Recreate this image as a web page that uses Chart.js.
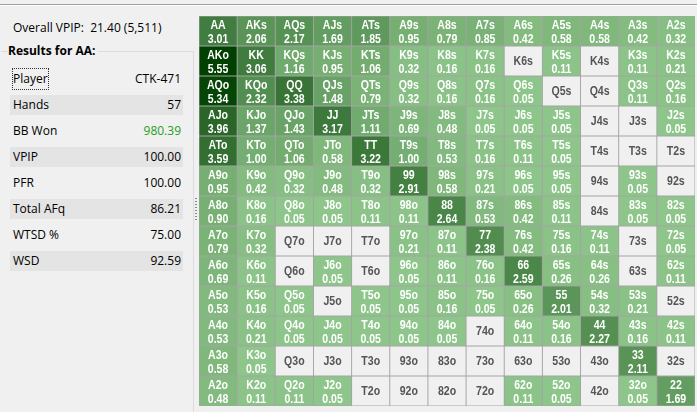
<!DOCTYPE html>
<html>
<head>
<meta charset="utf-8">
<script src="https://cdn.jsdelivr.net/npm/chart.js@4.4.0/dist/chart.umd.min.js"></script>
<style>
  body { margin: 0; width: 697px; height: 412px; background: #f0f0f0; overflow: hidden;
         font-family: "Segoe UI", "Open Sans", "Noto Sans", sans-serif; font-size: 12px; color: #000; position: relative; }
  .topline { position: absolute; left: 0; top: 4px; width: 697px; height: 1px; background: #a0a0a0; border-bottom: 1px solid #fff; }
  .vpip { position: absolute; left: 13px; top: 19px; }
  .box { position: absolute; left: 1px; top: 51px; width: 192px; height: 370px; border: 1px solid #dcdcdc; border-left: none; }
  .boxtitle { position: absolute; left: 8px; top: 42px; font-weight: bold; background: #f0f0f0; padding-right: 3px; }
  .row { position: absolute; left: 10px; width: 173px; height: 20px; line-height: 20px; }
  .row.alt { background: #e4e4e4; }
  .row .k { position: absolute; left: 3px; }
  .row .v { position: absolute; right: 2px; }
  .focus { outline: 1px dotted #333; outline-offset: 0px; }
  .split { position: absolute; left: 195px; top: 198px; width: 2px; height: 24px;
           background: repeating-linear-gradient(#888 0 1px, transparent 1px 3px); }
  #wrap { position: absolute; left: 199px; top: 16px; width: 496px; height: 390px; background: #a4a4a4; }
</style>
</head>
<body>
<div class="topline"></div>
<div class="vpip">Overall VPIP:&nbsp; 21.40 (5,511)</div>
<div class="box"></div>
<div class="boxtitle">Results for AA:</div>
<div id="stats"></div>
<div class="split"></div>
<div id="wrap"><canvas id="grid"></canvas></div>

<script>
// ranks in matrix order
const ranks = ['A', 'K', 'Q', 'J', 'T', '9', '8', '7', '6', '5', '4', '3', '2'];

// one row per first rank; null = hand never played
const rowA = [3.01, 2.06, 2.17, 1.69, 1.85, 0.95, 0.79, 0.85, 0.42, 0.58, 0.58, 0.42, 0.32];
const rowK = [5.55, 3.06, 1.16, 0.95, 1.06, 0.32, 0.16, 0.16, null, 0.11, null, 0.11, 0.21];
const rowQ = [5.34, 2.32, 3.38, 1.48, 0.79, 0.32, 0.16, 0.16, 0.05, null, null, 0.11, 0.16];
const rowJ = [3.96, 1.37, 1.43, 3.17, 1.11, 0.69, 0.48, 0.05, 0.05, 0.05, null, null, 0.05];
const rowT = [3.59, 1.00, 1.06, 0.58, 3.22, 1.00, 0.53, 0.16, 0.11, 0.05, null, null, null];
const row9 = [0.95, 0.42, 0.32, 0.48, 0.32, 2.91, 0.58, 0.21, 0.05, 0.05, null, 0.05, null];
const row8 = [0.90, 0.16, 0.05, 0.05, 0.11, 0.11, 2.64, 0.53, 0.42, 0.11, null, 0.05, 0.05];
const row7 = [0.79, 0.32, null, null, null, 0.21, 0.11, 2.38, 0.42, 0.16, 0.11, null, 0.05];
const row6 = [0.69, 0.11, null, 0.05, null, 0.05, 0.11, 0.16, 2.59, 0.26, 0.26, null, 0.11];
const row5 = [0.53, 0.16, 0.05, null, 0.05, 0.05, 0.16, 0.05, 0.26, 2.01, 0.32, 0.21, null];
const row4 = [0.53, 0.21, 0.05, 0.05, 0.05, 0.05, 0.05, null, 0.11, 0.16, 2.27, 0.16, 0.11];
const row3 = [0.58, 0.05, null, null, null, null, null, null, null, null, null, 2.11, null];
const row2 = [0.48, 0.11, 0.11, 0.05, null, null, null, null, 0.11, 0.05, null, 0.05, 1.69];
const rows = [rowA, rowK, rowQ, rowJ, rowT, row9, row8, row7, row6, row5, row4, row3, row2];

// left panel
const statNames = ['Player', 'Hands', 'BB Won', 'VPIP', 'PFR', 'Total AFq', 'WTSD %', 'WSD'];
const statValues = ['CTK-471', '57', '980.39', '100.00', '100.00', '86.21', '75.00', '92.59'];

let html = '';
statNames.forEach(function(name, i) {
    const top = 69 + i * 26;
    const cls = i % 2 ? 'row alt' : 'row';
    const k = i === 0 ? '<span class="k focus">' + name + '</span>' : '<span class="k">' + name + '</span>';
    const col = name === 'BB Won' ? ' style="color:#22a022"' : '';
    html += '<div class="' + cls + '" style="top:' + top + 'px">' + k + '<span class="v"' + col + '>' + statValues[i] + '</span></div>';
});
document.getElementById('stats').innerHTML = html;

function handName(r, c) {
    if (r === c) return ranks[r] + ranks[c];
    if (c > r) return ranks[r] + ranks[c] + 's';
    return ranks[c] + ranks[r] + 'o';
}

function cellColor(v) {
    if (v === null) return '#f0f0f0';
    const t = Math.min(v / 5.55, 1);
    const r = Math.round(143 - 143 * t);
    const g = Math.round(198 - 134 * t);
    const b = Math.round(139 - 139 * t);
    return 'rgb(' + r + ',' + g + ',' + b + ')';
}

const gap = 0.018;
const datasets = rows.map(function(vals, r) {
    return {
        label: ranks[r],
        data: vals.map(function() { return [r + gap, r + 1 - gap]; }),
        backgroundColor: vals.map(cellColor),
        borderWidth: 0,
        grouped: false,
        barPercentage: 1,
        categoryPercentage: 0.975
    };
});

// text is drawn a bit narrow, like the Windows UI font
function narrowText(ctx, text, x, y) {
    ctx.save();
    ctx.translate(x, y);
    ctx.scale(0.88, 1);
    ctx.fillText(text, 0, 0);
    ctx.restore();
}

const cellText = {
    id: 'cellText',
    afterDatasetsDraw(chart) {
        const ctx = chart.ctx;
        ctx.save();
        ctx.textAlign = 'center';
        ctx.textBaseline = 'middle';
        ctx.font = 'bold 12px "Liberation Sans", Arial, sans-serif';
        chart.data.datasets.forEach(function(ds, r) {
            chart.getDatasetMeta(r).data.forEach(function(bar, c) {
                const v = rows[r][c];
                const top = Math.min(bar.y, bar.base);
                const h = Math.abs(bar.base - bar.y);
                if (v === null) {
                    ctx.fillStyle = '#555555';
                    narrowText(ctx, handName(r, c), bar.x, top + h / 2 + 1);
                } else {
                    ctx.fillStyle = '#ffffff';
                    narrowText(ctx, handName(r, c), bar.x, top + 9);
                    narrowText(ctx, v.toFixed(2), bar.x, top + 23);
                }
            });
        });
        ctx.restore();
    }
};

new Chart(document.getElementById('grid'), {
    type: 'bar',
    data: { labels: ranks, datasets: datasets },
    options: {
        responsive: true,
        maintainAspectRatio: false,
        animation: false,
        layout: { padding: 0 },
        scales: {
            x: { display: false },
            y: { display: false, min: 0, max: 13, reverse: true }
        },
        plugins: {
            legend: { display: false },
            tooltip: { enabled: false }
        }
    },
    plugins: [cellText]
});
</script>
</body>
</html>
